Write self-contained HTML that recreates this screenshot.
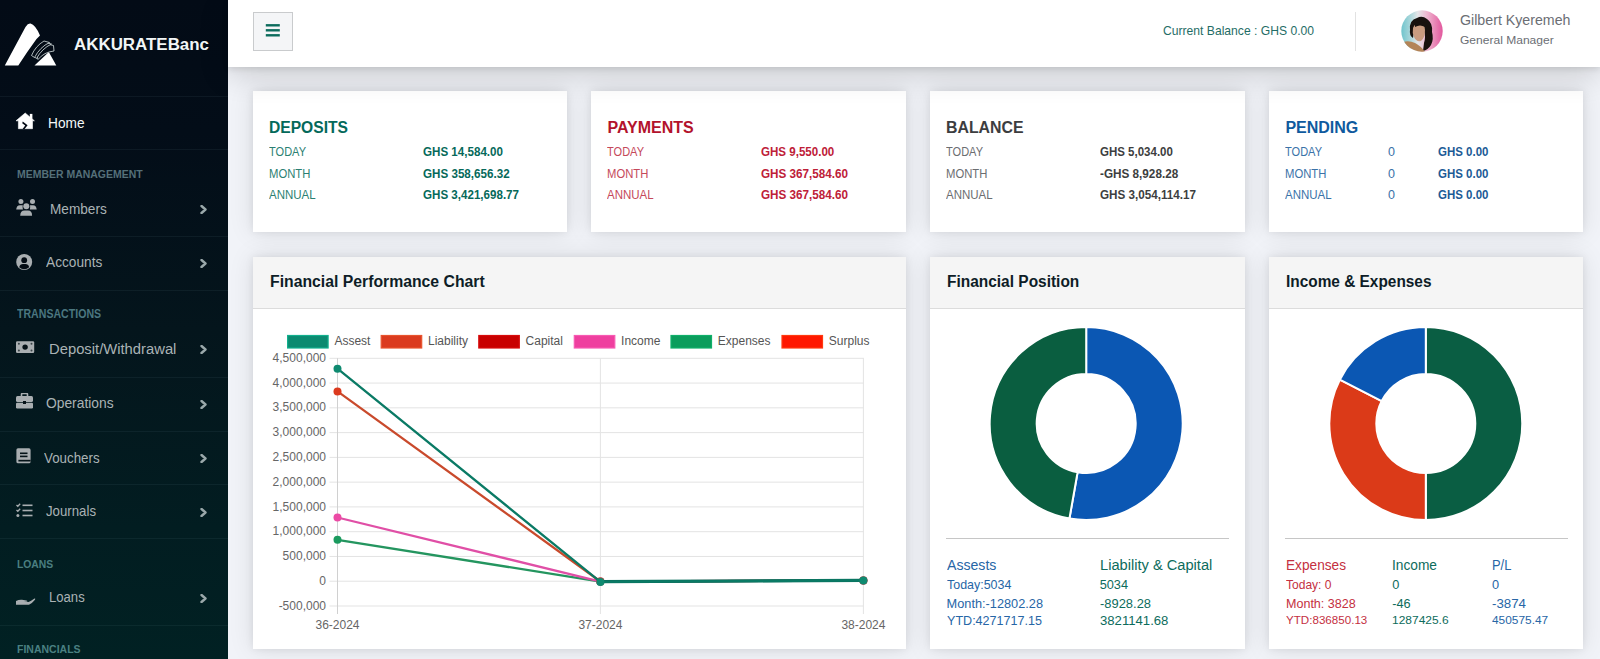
<!DOCTYPE html>
<html><head><meta charset="utf-8"><title>AKKURATEBanc Dashboard</title>
<style>
html,body{margin:0;padding:0}
body{width:1600px;height:659px;overflow:hidden;position:relative;background:#f1f3f8;font-family:"Liberation Sans",sans-serif}
.t{position:absolute;white-space:nowrap;transform-origin:0 0}
.abs{position:absolute}
#side{position:absolute;left:0;top:0;width:228px;height:659px;background:linear-gradient(180deg,#030b16 0%,#030d18 20%,#04151c 50%,#021d21 80%,#012123 100%)}
.sep{position:absolute;left:0;width:228px;height:1px;background:rgba(120,160,170,0.09)}
#hdr{position:absolute;left:228px;top:0;width:1372px;height:67px;background:#fff;box-shadow:0 2px 6px rgba(0,0,0,0.10),0 8px 30px rgba(0,0,0,0.16);z-index:2}
.card{position:absolute;background:#fff;box-shadow:0 0 8px rgba(0,0,10,0.08),0 0 24px rgba(0,0,10,0.10)}
.ch{position:absolute;left:0;top:0;right:0;height:51px;background:#f5f5f5;border-bottom:1px solid #dcdcdc}
</style></head><body>
<div id="side">
<svg class="abs" style="left:0;top:15px" width="64" height="60" viewBox="0 15 64 60">
<path d="M4.8 65.5 L25.5 27 Q28 23.2 30.5 23.6 Q35.5 25 40 35.5 L36.5 39 Q27 52 18.3 65.5 Z" fill="#fff"/>
<path d="M34.5 65.5 L48.8 52 L56.3 65.5 Z" fill="#fff"/>
<g fill="#030b16" stroke="#d8e2e2" stroke-width="0.8" stroke-linejoin="round">
<path d="M36.5 55 Q40 48 47.5 44 L53.5 45.5 L54 51 Q44 52 38 59.5 Z"/>
<path d="M34 56.5 Q37.5 47.5 45.5 42.5 L51.5 44 Q42 48.5 36.5 58.5 Z"/>
<path d="M31.5 55.5 Q35.5 46 44 41 L49.5 42.5 Q40 47 34.5 57.5 Z"/>
</g>
</svg>
<div class="t" style="left:73.5px;top:37.00px;font-size:16.00px;line-height:16.00px;color:#f2f6f6;font-weight:bold;transform:scaleX(1.0571);">AKKURATEBanc</div>
<div class="sep" style="top:96px"></div>
<div class="sep" style="top:149px"></div>
<div class="sep" style="top:236px"></div>
<div class="sep" style="top:290px"></div>
<div class="sep" style="top:377px"></div>
<div class="sep" style="top:431px"></div>
<div class="sep" style="top:484px"></div>
<div class="sep" style="top:538px"></div>
<div class="sep" style="top:625px"></div>
<svg class="abs" style="left:16px;top:112px" width="19" height="18" viewBox="0 0 19 18">
<path d="M9.2 1 L18.4 8.8 L16.5 8.8 L16.5 16.7 L2.4 16.7 L2.4 8.8 L0 8.8 Z" fill="#fff" stroke="#fff" stroke-width="0.6" stroke-linejoin="round"/>
<rect x="13.8" y="1.9" width="2.6" height="5" fill="#fff"/>
<path d="M6.8 9.6 L11.6 13.2 L8.6 17 L6.6 17 L9.2 13.4 L6.2 11.2 Z" fill="#030a15"/>
</svg>
<div class="t" style="left:48.3px;top:116.00px;font-size:14.25px;line-height:14.25px;color:#f4f8f8;transform:scaleX(0.9602);">Home</div>
<div class="t" style="left:16.8px;top:169.00px;font-size:11.25px;line-height:11.25px;color:#557079;font-weight:bold;transform:scaleX(0.9304);">MEMBER MANAGEMENT</div>
<svg class="abs" style="left:16px;top:199px" width="21" height="17" viewBox="0 0 21 17">
<circle cx="4.9" cy="2.5" r="2.5" fill="#a9aeb1"/><circle cx="16.5" cy="2.5" r="2.5" fill="#a9aeb1"/><circle cx="10.3" cy="7.2" r="3" fill="#a9aeb1"/>
<path d="M0.2 10.6 Q0.6 6.3 4 6.3 L6.8 6.3 Q6.3 8.5 6.9 10.6 Z" fill="#a9aeb1"/><path d="M20.7 10.6 Q20.3 6.3 17 6.3 L14 6.3 Q14.5 8.5 13.9 10.6 Z" fill="#a9aeb1"/>
<path d="M4.2 16.7 Q4.4 11.6 8.5 11.6 L12 11.6 Q16 11.6 16.1 16.7 Z" fill="#a9aeb1"/>
</svg>
<div class="t" style="left:50.3px;top:202.00px;font-size:14.50px;line-height:14.50px;color:#aab3b5;transform:scaleX(0.9399);">Members</div>
<svg class="abs" style="left:200px;top:205px" width="8" height="9" viewBox="0 0 8 9"><path d="M1.5 1 L5.5 4.5 L1.5 8" fill="none" stroke="#9aa8aa" stroke-width="2.4" stroke-linecap="round" stroke-linejoin="round"/></svg>
<svg class="abs" style="left:16px;top:254px" width="17" height="17" viewBox="0 0 17 17">
<circle cx="8.2" cy="8" r="8" fill="#a9aeb1"/><circle cx="8.2" cy="6.2" r="2.9" fill="#040c14"/>
<path d="M3.2 13.2 Q4 10 7 10 L9.4 10 Q12.4 10 13.2 13.2 Q11 15.2 8.2 15.2 Q5.4 15.2 3.2 13.2Z" fill="#040c14"/>
</svg>
<div class="t" style="left:46.2px;top:255.00px;font-size:14.75px;line-height:14.75px;color:#aab3b5;transform:scaleX(0.9280);">Accounts</div>
<svg class="abs" style="left:200px;top:259px" width="8" height="9" viewBox="0 0 8 9"><path d="M1.5 1 L5.5 4.5 L1.5 8" fill="none" stroke="#9aa8aa" stroke-width="2.4" stroke-linecap="round" stroke-linejoin="round"/></svg>
<div class="t" style="left:16.6px;top:308.00px;font-size:12.00px;line-height:12.00px;color:#4b7780;font-weight:bold;transform:scaleX(0.8822);">TRANSACTIONS</div>
<svg class="abs" style="left:16px;top:341px" width="19" height="13" viewBox="0 0 19 13">
<rect x="0" y="0.3" width="18.2" height="11.6" rx="1.2" fill="#a9aeb1"/>
<circle cx="9.1" cy="6.1" r="2.7" fill="#061218"/>
<circle cx="2.9" cy="2.8" r="1" fill="#3a4448"/><circle cx="15.5" cy="2.8" r="1" fill="#3a4448"/><circle cx="2.9" cy="9.5" r="1" fill="#3a4448"/><circle cx="15.5" cy="9.5" r="1" fill="#3a4448"/>
</svg>
<div class="t" style="left:48.5px;top:341.00px;font-size:15.25px;line-height:15.25px;color:#aab3b5;transform:scaleX(0.9698);">Deposit/Withdrawal</div>
<svg class="abs" style="left:200px;top:345px" width="8" height="9" viewBox="0 0 8 9"><path d="M1.5 1 L5.5 4.5 L1.5 8" fill="none" stroke="#9aa8aa" stroke-width="2.4" stroke-linecap="round" stroke-linejoin="round"/></svg>
<svg class="abs" style="left:16px;top:393px" width="17" height="16" viewBox="0 0 17 16">
<path d="M5.5 3 L5.5 1.5 Q5.5 0.5 6.5 0.5 L10.5 0.5 Q11.5 0.5 11.5 1.5 L11.5 3" fill="none" stroke="#a9aeb1" stroke-width="1.6"/>
<rect x="0" y="3" width="17" height="6" rx="1.5" fill="#a9aeb1"/>
<rect x="0" y="9.8" width="17" height="5.7" rx="1.2" fill="#a9aeb1"/>
<rect x="7" y="8" width="3" height="3" fill="#061218"/>
</svg>
<div class="t" style="left:46.4px;top:395.00px;font-size:15.50px;line-height:15.50px;color:#aab3b5;transform:scaleX(0.8916);">Operations</div>
<svg class="abs" style="left:200px;top:400px" width="8" height="9" viewBox="0 0 8 9"><path d="M1.5 1 L5.5 4.5 L1.5 8" fill="none" stroke="#9aa8aa" stroke-width="2.4" stroke-linecap="round" stroke-linejoin="round"/></svg>
<svg class="abs" style="left:16px;top:448px" width="15" height="16" viewBox="0 0 15 16">
<rect x="0.4" y="0.3" width="14.2" height="15" rx="1.6" fill="#a9aeb1"/>
<rect x="4" y="4.5" width="7.5" height="1.6" fill="#051318"/><rect x="4" y="7.6" width="7.5" height="1.6" fill="#051318"/>
<rect x="2.4" y="11.8" width="12.2" height="1.7" fill="#051318"/>
</svg>
<div class="t" style="left:44.4px;top:450.00px;font-size:15.00px;line-height:15.00px;color:#aab3b5;transform:scaleX(0.8890);">Vouchers</div>
<svg class="abs" style="left:200px;top:454px" width="8" height="9" viewBox="0 0 8 9"><path d="M1.5 1 L5.5 4.5 L1.5 8" fill="none" stroke="#9aa8aa" stroke-width="2.4" stroke-linecap="round" stroke-linejoin="round"/></svg>
<svg class="abs" style="left:16px;top:503px" width="17" height="15" viewBox="0 0 17 15">
<path d="M0.5 2 L1.8 3.3 L4.2 0.7 M0.5 7 L1.8 8.3 L4.2 5.7" fill="none" stroke="#a9aeb1" stroke-width="1.3"/>
<circle cx="1.9" cy="12.5" r="1.5" fill="#a9aeb1"/>
<rect x="6.5" y="1.5" width="10" height="1.6" fill="#a9aeb1"/><rect x="6.5" y="6.7" width="10" height="1.6" fill="#a9aeb1"/><rect x="6.5" y="11.7" width="10" height="1.6" fill="#a9aeb1"/>
</svg>
<div class="t" style="left:45.9px;top:503.00px;font-size:15.00px;line-height:15.00px;color:#aab3b5;transform:scaleX(0.8819);">Journals</div>
<svg class="abs" style="left:200px;top:508px" width="8" height="9" viewBox="0 0 8 9"><path d="M1.5 1 L5.5 4.5 L1.5 8" fill="none" stroke="#9aa8aa" stroke-width="2.4" stroke-linecap="round" stroke-linejoin="round"/></svg>
<div class="t" style="left:16.6px;top:559.00px;font-size:10.50px;line-height:10.50px;color:#4a7e80;font-weight:bold;transform:scaleX(0.9850);">LOANS</div>
<svg class="abs" style="left:16px;top:596px" width="20" height="10" viewBox="0 0 20 10">
<path d="M0 5 Q3 3.5 6 3.8 L10.5 4.5 Q12 4.8 11 5.6 L8 5.6 L12.5 6 Q15 5 18.5 2.5 Q19.8 2.3 19 3.8 Q16 7.5 13 8.8 L0 8.8Z" fill="#a9aeb1"/>
</svg>
<div class="t" style="left:48.5px;top:590.00px;font-size:14.25px;line-height:14.25px;color:#aab3b5;transform:scaleX(0.9195);">Loans</div>
<svg class="abs" style="left:200px;top:594px" width="8" height="9" viewBox="0 0 8 9"><path d="M1.5 1 L5.5 4.5 L1.5 8" fill="none" stroke="#9aa8aa" stroke-width="2.4" stroke-linecap="round" stroke-linejoin="round"/></svg>
<div class="t" style="left:16.6px;top:644.00px;font-size:11.25px;line-height:11.25px;color:#4a8082;font-weight:bold;transform:scaleX(0.9336);">FINANCIALS</div>
</div>
<div id="hdr"></div>
<div class="abs" style="left:253px;top:12px;width:38px;height:37px;border:1px solid #c9cbcd;background:#f4f5f7;z-index:3"></div>
<svg class="abs" style="left:265px;top:24px;z-index:3" width="16" height="14" viewBox="0 0 16 14"><g stroke="#0b6b5c" stroke-width="2.4"><line x1="0.8" y1="1.3" x2="14.8" y2="1.3"/><line x1="0.8" y1="6.3" x2="14.8" y2="6.3"/><line x1="0.8" y1="11.3" x2="14.8" y2="11.3"/></g></svg>
<div class="t" style="left:1163.1px;top:25.00px;font-size:12.25px;line-height:12.25px;color:#1f6d66;transform:scaleX(0.9900);z-index:3;">Current Balance : GHS 0.00</div>
<div class="abs" style="left:1355px;top:12px;width:1px;height:39px;background:#e2e2e2;z-index:3"></div>
<svg class="abs" style="left:1401px;top:10px;z-index:3" width="42" height="42" viewBox="0 0 42 42">
<defs><clipPath id="av"><circle cx="21" cy="21" r="20.7"/></clipPath>
<linearGradient id="avbg" x1="0" y1="0" x2="1" y2="0"><stop offset="0" stop-color="#6ec4cc"/><stop offset="0.22" stop-color="#a9d6da"/><stop offset="0.4" stop-color="#e4e6e8"/><stop offset="0.62" stop-color="#eeb6cf"/><stop offset="1" stop-color="#e2559c"/></linearGradient></defs>
<g clip-path="url(#av)">
<rect width="42" height="42" fill="url(#avbg)"/>
<path d="M9 20 Q8 10 16 8 Q21 5 26 9 Q32 13 31 22 Q33 29 30 35 Q27 40 22 41 L23 33 Q25 27 23 21 Q19 17 14 21 Q12 25 12 28 Q8 25 9 20Z" fill="#18120e"/>
<path d="M12 18 Q14 13 19 13 Q24 14 24 20 Q24 28 20 31 Q15 32 13 27 Q11 23 12 18Z" fill="#c99c80"/>
<path d="M14 14 Q18 10 24 13 L24 17 Q19 14 14 17Z" fill="#18120e"/>
<path d="M0 42 L2 32 Q8 30 14 33 Q20 36 24 42Z" fill="#b38457"/>
</g></svg>
<div class="t" style="left:1460.0px;top:14.00px;font-size:13.75px;line-height:13.75px;color:#6b6e74;transform:scaleX(1.0328);z-index:3;">Gilbert Kyeremeh</div>
<div class="t" style="left:1460.0px;top:35.00px;font-size:11.25px;line-height:11.25px;color:#6b6e74;transform:scaleX(1.0702);z-index:3;">General Manager</div>
<div class="card" style="left:253px;top:91px;width:314px;height:141px;"></div>
<div class="card" style="left:591px;top:91px;width:315px;height:141px;"></div>
<div class="card" style="left:930px;top:91px;width:315px;height:141px;"></div>
<div class="card" style="left:1269px;top:91px;width:314px;height:141px;"></div>
<div class="t" style="left:269.4px;top:120.00px;font-size:16.00px;line-height:16.00px;color:#04695a;font-weight:bold;transform:scaleX(0.9764);">DEPOSITS</div>
<div class="t" style="left:269.4px;top:146.00px;font-size:12.50px;line-height:12.50px;color:#2b7f72;transform:scaleX(0.8829);">TODAY</div>
<div class="t" style="left:422.5px;top:146.00px;font-size:12.50px;line-height:12.50px;color:#06695a;font-weight:bold;transform:scaleX(0.9284);">GHS 14,584.00</div>
<div class="t" style="left:269.4px;top:168.00px;font-size:12.50px;line-height:12.50px;color:#2b7f72;transform:scaleX(0.9012);">MONTH</div>
<div class="t" style="left:422.5px;top:168.00px;font-size:12.50px;line-height:12.50px;color:#06695a;font-weight:bold;transform:scaleX(0.9300);">GHS 358,656.32</div>
<div class="t" style="left:269.4px;top:189.00px;font-size:12.50px;line-height:12.50px;color:#2b7f72;transform:scaleX(0.9190);">ANNUAL</div>
<div class="t" style="left:422.5px;top:189.00px;font-size:12.50px;line-height:12.50px;color:#06695a;font-weight:bold;transform:scaleX(0.9271);">GHS 3,421,698.77</div>
<div class="t" style="left:607.4px;top:120.00px;font-size:16.00px;line-height:16.00px;color:#b3122c;font-weight:bold;">PAYMENTS</div>
<div class="t" style="left:607.4px;top:146.00px;font-size:12.50px;line-height:12.50px;color:#c5485a;transform:scaleX(0.8829);">TODAY</div>
<div class="t" style="left:760.5px;top:146.00px;font-size:12.50px;line-height:12.50px;color:#be2038;font-weight:bold;transform:scaleX(0.9253);">GHS 9,550.00</div>
<div class="t" style="left:607.4px;top:168.00px;font-size:12.50px;line-height:12.50px;color:#c5485a;transform:scaleX(0.9012);">MONTH</div>
<div class="t" style="left:760.5px;top:168.00px;font-size:12.50px;line-height:12.50px;color:#be2038;font-weight:bold;transform:scaleX(0.9353);">GHS 367,584.60</div>
<div class="t" style="left:607.4px;top:189.00px;font-size:12.50px;line-height:12.50px;color:#c5485a;transform:scaleX(0.9190);">ANNUAL</div>
<div class="t" style="left:760.5px;top:189.00px;font-size:12.50px;line-height:12.50px;color:#be2038;font-weight:bold;transform:scaleX(0.9353);">GHS 367,584.60</div>
<div class="t" style="left:946.4px;top:120.00px;font-size:16.00px;line-height:16.00px;color:#3c3d3f;font-weight:bold;transform:scaleX(0.9908);">BALANCE</div>
<div class="t" style="left:946.4px;top:146.00px;font-size:12.50px;line-height:12.50px;color:#6b6d70;transform:scaleX(0.8829);">TODAY</div>
<div class="t" style="left:1099.5px;top:146.00px;font-size:12.50px;line-height:12.50px;color:#3d3e40;font-weight:bold;transform:scaleX(0.9202);">GHS 5,034.00</div>
<div class="t" style="left:946.4px;top:168.00px;font-size:12.50px;line-height:12.50px;color:#6b6d70;transform:scaleX(0.9012);">MONTH</div>
<div class="t" style="left:1099.5px;top:168.00px;font-size:12.50px;line-height:12.50px;color:#3d3e40;font-weight:bold;transform:scaleX(0.9379);">-GHS 8,928.28</div>
<div class="t" style="left:946.4px;top:189.00px;font-size:12.50px;line-height:12.50px;color:#6b6d70;transform:scaleX(0.9190);">ANNUAL</div>
<div class="t" style="left:1099.5px;top:189.00px;font-size:12.50px;line-height:12.50px;color:#3d3e40;font-weight:bold;transform:scaleX(0.9343);">GHS 3,054,114.17</div>
<div class="t" style="left:1285.4px;top:120.00px;font-size:16.00px;line-height:16.00px;color:#0f5a9e;font-weight:bold;">PENDING</div>
<div class="t" style="left:1285.4px;top:146.00px;font-size:12.50px;line-height:12.50px;color:#3a72a8;transform:scaleX(0.8829);">TODAY</div>
<div class="t" style="left:1388.1px;top:146.00px;font-size:12.50px;line-height:12.50px;color:#3a72a8;">0</div>
<div class="t" style="left:1438.3px;top:146.00px;font-size:12.50px;line-height:12.50px;color:#1c5b96;font-weight:bold;transform:scaleX(0.9182);">GHS 0.00</div>
<div class="t" style="left:1285.4px;top:168.00px;font-size:12.50px;line-height:12.50px;color:#3a72a8;transform:scaleX(0.9012);">MONTH</div>
<div class="t" style="left:1388.1px;top:168.00px;font-size:12.50px;line-height:12.50px;color:#3a72a8;">0</div>
<div class="t" style="left:1438.3px;top:168.00px;font-size:12.50px;line-height:12.50px;color:#1c5b96;font-weight:bold;transform:scaleX(0.9182);">GHS 0.00</div>
<div class="t" style="left:1285.4px;top:189.00px;font-size:12.50px;line-height:12.50px;color:#3a72a8;transform:scaleX(0.9190);">ANNUAL</div>
<div class="t" style="left:1388.1px;top:189.00px;font-size:12.50px;line-height:12.50px;color:#3a72a8;">0</div>
<div class="t" style="left:1438.3px;top:189.00px;font-size:12.50px;line-height:12.50px;color:#1c5b96;font-weight:bold;transform:scaleX(0.9182);">GHS 0.00</div>
<div class="card" style="left:253px;top:257px;width:653px;height:392px;"></div>
<div class="card" style="left:930px;top:257px;width:315px;height:392px;"></div>
<div class="card" style="left:1269px;top:257px;width:314px;height:392px;"></div>
<div class="ch abs" style="left:253px;top:257px;width:653px"></div>
<div class="ch abs" style="left:930px;top:257px;width:315px"></div>
<div class="ch abs" style="left:1269px;top:257px;width:314px"></div>
<div class="t" style="left:269.8px;top:274.00px;font-size:16.75px;line-height:16.75px;color:#0e1d27;font-weight:bold;transform:scaleX(0.9414);">Financial Performance Chart</div>
<div class="t" style="left:947.0px;top:274.00px;font-size:16.75px;line-height:16.75px;color:#0e1d27;font-weight:bold;transform:scaleX(0.9231);">Financial Position</div>
<div class="t" style="left:1285.5px;top:274.00px;font-size:16.75px;line-height:16.75px;color:#0e1d27;font-weight:bold;transform:scaleX(0.9194);">Income &amp; Expenses</div>
<svg class="abs" style="left:253px;top:310px" width="653" height="339" viewBox="253 310 653 339" font-family="Liberation Sans" font-size="12">
<line x1="329.5" y1="358.30" x2="863.9" y2="358.30" stroke="#e3e3e3" stroke-width="1"/>
<line x1="329.5" y1="383.07" x2="863.9" y2="383.07" stroke="#e3e3e3" stroke-width="1"/>
<line x1="329.5" y1="407.84" x2="863.9" y2="407.84" stroke="#e3e3e3" stroke-width="1"/>
<line x1="329.5" y1="432.61" x2="863.9" y2="432.61" stroke="#e3e3e3" stroke-width="1"/>
<line x1="329.5" y1="457.38" x2="863.9" y2="457.38" stroke="#e3e3e3" stroke-width="1"/>
<line x1="329.5" y1="482.15" x2="863.9" y2="482.15" stroke="#e3e3e3" stroke-width="1"/>
<line x1="329.5" y1="506.92" x2="863.9" y2="506.92" stroke="#e3e3e3" stroke-width="1"/>
<line x1="329.5" y1="531.69" x2="863.9" y2="531.69" stroke="#e3e3e3" stroke-width="1"/>
<line x1="329.5" y1="556.46" x2="863.9" y2="556.46" stroke="#e3e3e3" stroke-width="1"/>
<line x1="329.5" y1="581.23" x2="863.9" y2="581.23" stroke="#e3e3e3" stroke-width="1"/>
<line x1="329.5" y1="606.00" x2="863.9" y2="606.00" stroke="#e3e3e3" stroke-width="1"/>
<line x1="337.5" y1="358.3" x2="337.5" y2="614" stroke="#e3e3e3" stroke-width="1"/>
<line x1="600.4" y1="358.3" x2="600.4" y2="614" stroke="#e3e3e3" stroke-width="1"/>
<line x1="863.4" y1="358.3" x2="863.4" y2="614" stroke="#e3e3e3" stroke-width="1"/>
<line x1="337.5" y1="358.3" x2="337.5" y2="614" stroke="#d0d0d0" stroke-width="1"/>
<text x="326" y="361.90" text-anchor="end" fill="#666">4,500,000</text>
<text x="326" y="386.67" text-anchor="end" fill="#666">4,000,000</text>
<text x="326" y="411.44" text-anchor="end" fill="#666">3,500,000</text>
<text x="326" y="436.21" text-anchor="end" fill="#666">3,000,000</text>
<text x="326" y="460.98" text-anchor="end" fill="#666">2,500,000</text>
<text x="326" y="485.75" text-anchor="end" fill="#666">2,000,000</text>
<text x="326" y="510.52" text-anchor="end" fill="#666">1,500,000</text>
<text x="326" y="535.29" text-anchor="end" fill="#666">1,000,000</text>
<text x="326" y="560.06" text-anchor="end" fill="#666">500,000</text>
<text x="326" y="584.83" text-anchor="end" fill="#666">0</text>
<text x="326" y="609.60" text-anchor="end" fill="#666">-500,000</text>
<text x="337.5" y="628.8" text-anchor="middle" fill="#666">36-2024</text>
<text x="600.4" y="628.8" text-anchor="middle" fill="#666">37-2024</text>
<text x="863.4" y="628.8" text-anchor="middle" fill="#666">38-2024</text>
<rect x="287.6" y="335.5" width="40.5" height="12.5" fill="#0b8a70" stroke="#12b08e" stroke-width="1.2"/>
<text x="334.40000000000003" y="345.2" fill="#555">Assest</text>
<rect x="381.2" y="335.5" width="40.5" height="12.5" fill="#db3b1f" stroke="#e8542e" stroke-width="1.2"/>
<text x="428.0" y="345.2" fill="#555">Liability</text>
<rect x="478.8" y="335.5" width="40.5" height="12.5" fill="#c80000" stroke="#d80c0c" stroke-width="1.2"/>
<text x="525.6" y="345.2" fill="#555">Capital</text>
<rect x="574.3" y="335.5" width="40.5" height="12.5" fill="#ef3f9f" stroke="#f75ab3" stroke-width="1.2"/>
<text x="621.0999999999999" y="345.2" fill="#555">Income</text>
<rect x="671.0" y="335.5" width="40.5" height="12.5" fill="#0b9d5c" stroke="#10b06a" stroke-width="1.2"/>
<text x="717.8" y="345.2" fill="#555">Expenses</text>
<rect x="782.0" y="335.5" width="40.5" height="12.5" fill="#ff1800" stroke="#ff3a10" stroke-width="1.2"/>
<text x="828.8" y="345.2" fill="#555">Surplus</text>
<path d="M337.5,539.8 L600.4,581.6 L863.4,580.5" fill="none" stroke="#24955f" stroke-width="2.3"/>
<circle cx="337.5" cy="539.8" r="4" fill="#1a9a5e"/>
<circle cx="600.4" cy="581.6" r="4" fill="#1a9a5e"/>
<circle cx="863.4" cy="580.5" r="4" fill="#1a9a5e"/>
<path d="M337.5,517.5 L600.4,581.5 L863.4,580.5" fill="none" stroke="#e04fa6" stroke-width="2.3"/>
<circle cx="337.5" cy="517.5" r="4" fill="#ec4aa5"/>
<circle cx="600.4" cy="581.5" r="4" fill="#ec4aa5"/>
<circle cx="863.4" cy="580.5" r="4" fill="#ec4aa5"/>
<path d="M337.5,391.4 L600.4,581.5 L863.4,580.5" fill="none" stroke="#c94a2c" stroke-width="2.3"/>
<circle cx="337.5" cy="391.4" r="4" fill="#dc3a1e"/>
<circle cx="600.4" cy="581.5" r="4" fill="#dc3a1e"/>
<circle cx="863.4" cy="580.5" r="4" fill="#dc3a1e"/>
<path d="M600.4,581.6 L863.4,580.4" fill="none" stroke="#0b6f5d" stroke-width="3.2"/>
<path d="M337.5,368.7 L600.4,581.9 L863.4,580.4" fill="none" stroke="#0a7a65" stroke-width="2.3"/>
<circle cx="337.5" cy="368.7" r="4" fill="#0e8a70"/>
<circle cx="600.4" cy="581.9" r="4" fill="#0e8a70"/>
<circle cx="863.4" cy="580.4" r="4" fill="#0e8a70"/>
</svg>
<svg class="abs" style="left:930px;top:311px" width="314" height="225" viewBox="930 311 314 225">
<path d="M1086.20,327.00 A96.5,96.5 0 1 1 1069.43,518.53 L1077.60,472.25 A49.5,49.5 0 1 0 1086.20,374.00 Z" fill="#0b57b3" stroke="#fff" stroke-width="2" stroke-linejoin="round"/>
<path d="M1069.43,518.53 A96.5,96.5 0 0 1 1086.20,327.00 L1086.20,374.00 A49.5,49.5 0 0 0 1077.60,472.25 Z" fill="#0a5e40" stroke="#fff" stroke-width="2" stroke-linejoin="round"/>
</svg>
<svg class="abs" style="left:1268.5px;top:311px" width="314" height="225" viewBox="1268.5 311 314 225">
<path d="M1425.30,327.00 A96.5,96.5 0 0 1 1425.30,520.00 L1425.30,473.00 A49.5,49.5 0 0 0 1425.30,374.00 Z" fill="#0a5e43" stroke="#fff" stroke-width="2" stroke-linejoin="round"/>
<path d="M1425.30,520.00 A96.5,96.5 0 0 1 1339.32,379.69 L1381.20,401.03 A49.5,49.5 0 0 0 1425.30,473.00 Z" fill="#db3a18" stroke="#fff" stroke-width="2" stroke-linejoin="round"/>
<path d="M1339.32,379.69 A96.5,96.5 0 0 1 1425.30,327.00 L1425.30,374.00 A49.5,49.5 0 0 0 1381.20,401.03 Z" fill="#0b57b3" stroke="#fff" stroke-width="2" stroke-linejoin="round"/>
</svg>
<div class="abs" style="left:946px;top:537.5px;width:282.5px;height:1.2px;background:#c6c6c6"></div>
<div class="abs" style="left:1285px;top:537.5px;width:282.5px;height:1.2px;background:#c6c6c6"></div>
<div class="t" style="left:946.6px;top:558.00px;font-size:14.00px;line-height:14.00px;color:#2766a6;transform:scaleX(1.0079);">Assests</div>
<div class="t" style="left:946.6px;top:579.00px;font-size:12.75px;line-height:12.75px;color:#2766a6;transform:scaleX(0.9768);">Today:5034</div>
<div class="t" style="left:946.6px;top:598.00px;font-size:12.75px;line-height:12.75px;color:#2766a6;">Month:-12802.28</div>
<div class="t" style="left:946.6px;top:615.00px;font-size:12.75px;line-height:12.75px;color:#2766a6;transform:scaleX(0.9854);">YTD:4271717.15</div>
<div class="t" style="left:1099.7px;top:558.00px;font-size:14.00px;line-height:14.00px;color:#0d6c5c;transform:scaleX(1.0458);">Liability &amp; Capital</div>
<div class="t" style="left:1099.7px;top:579.00px;font-size:12.75px;line-height:12.75px;color:#0d6c5c;">5034</div>
<div class="t" style="left:1099.7px;top:598.00px;font-size:12.75px;line-height:12.75px;color:#0d6c5c;transform:scaleX(1.0132);">-8928.28</div>
<div class="t" style="left:1099.7px;top:615.00px;font-size:12.75px;line-height:12.75px;color:#0d6c5c;transform:scaleX(1.0299);">3821141.68</div>
<div class="t" style="left:1285.7px;top:558.00px;font-size:14.00px;line-height:14.00px;color:#c4303f;transform:scaleX(0.9759);">Expenses</div>
<div class="t" style="left:1285.7px;top:579.00px;font-size:12.75px;line-height:12.75px;color:#c4303f;transform:scaleX(0.9440);">Today: 0</div>
<div class="t" style="left:1285.7px;top:598.00px;font-size:12.75px;line-height:12.75px;color:#c4303f;transform:scaleX(0.9833);">Month: 3828</div>
<div class="t" style="left:1285.7px;top:615.00px;font-size:11.25px;line-height:11.25px;color:#c4303f;transform:scaleX(1.0317);">YTD:836850.13</div>
<div class="t" style="left:1392.2px;top:558.00px;font-size:14.00px;line-height:14.00px;color:#0d6c5c;transform:scaleX(0.9802);">Income</div>
<div class="t" style="left:1392.2px;top:579.00px;font-size:12.75px;line-height:12.75px;color:#0d6c5c;">0</div>
<div class="t" style="left:1392.2px;top:598.00px;font-size:12.75px;line-height:12.75px;color:#0d6c5c;">-46</div>
<div class="t" style="left:1392.2px;top:615.00px;font-size:11.25px;line-height:11.25px;color:#0d6c5c;transform:scaleX(1.0643);">1287425.6</div>
<div class="t" style="left:1492.0px;top:558.00px;font-size:14.00px;line-height:14.00px;color:#2766a6;transform:scaleX(0.9232);">P/L</div>
<div class="t" style="left:1492.0px;top:579.00px;font-size:12.75px;line-height:12.75px;color:#2766a6;">0</div>
<div class="t" style="left:1492.0px;top:598.00px;font-size:12.75px;line-height:12.75px;color:#2766a6;transform:scaleX(1.0426);">-3874</div>
<div class="t" style="left:1492.0px;top:615.00px;font-size:11.25px;line-height:11.25px;color:#2766a6;transform:scaleX(1.0568);">450575.47</div>
</body></html>
